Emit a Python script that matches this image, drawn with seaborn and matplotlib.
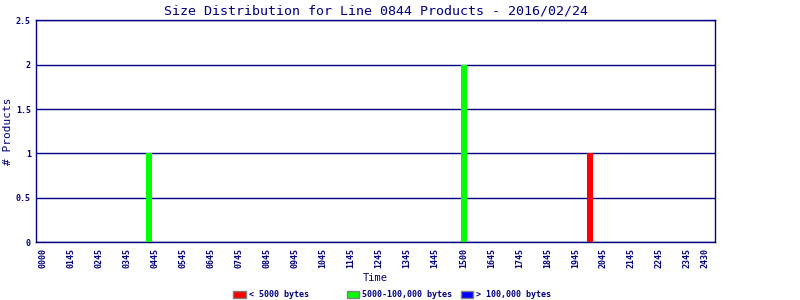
import matplotlib
matplotlib.use("Agg")
import matplotlib.pyplot as plt
from matplotlib.patches import Patch
import numpy as np
import pandas as pd
import seaborn as sns

# ---- data ----
bar_hours = [3.77, 15.02, 19.53]
bar_counts = [1, 2, 1]
bar_sizes = ["5000-100,000 bytes", "5000-100,000 bytes", "< 5000 bytes"]

size_categories = ["< 5000 bytes", "5000-100,000 bytes", "> 100,000 bytes"]
size_colors = ["#ff0000", "#00ff00", "#0000ff"]

tick_hours = list(range(24)) + [23.64]
tick_labels = ["0000", "0145", "0245", "0345", "0445", "0545", "0645", "0745",
               "0845", "0945", "1045", "1145", "1245", "1345", "1445", "1500",
               "1645", "1745", "1845", "1945", "2045", "2145", "2245", "2345",
               "2430"]
y_ticks = [0, 0.5, 1, 1.5, 2, 2.5]
y_tick_labels = ["0", "0.5", "1", "1.5", "2", "2.5"]

title = "Size Distribution for Line 0844 Products - 2016/02/24"

# ---- style ----
sns.set_style("white")
plt.rcParams["font.family"] = ["DejaVu Sans Mono", "DejaVu Sans"]
NAVY = "#000080"

fig = plt.figure(figsize=(8, 3), dpi=100)
ax = fig.add_axes([0.0456, 0.1917, 0.8485, 0.7416])

df = pd.DataFrame({"hour": bar_hours, "count": bar_counts, "size": bar_sizes})
palette = dict(zip(size_categories, size_colors))
bar_width_hours = 0.22
uniq = np.unique(df["hour"])
rel_width = bar_width_hours / np.diff(uniq).min()

sns.barplot(data=df, x="hour", y="count", hue="size", hue_order=size_categories,
            palette=palette, native_scale=True, dodge=False, width=rel_width,
            saturation=1, errorbar=None, legend=False, ax=ax, zorder=3,
            linewidth=0, edgecolor="none")

ax.set_xlim(-0.24, 24.0)
ax.set_ylim(0, 2.5)
ax.set_yticks(y_ticks)
ax.set_yticklabels(y_tick_labels)
ax.set_xticks(tick_hours)
ax.set_xticklabels(tick_labels, rotation=90)
ax.tick_params(axis="both", length=0, colors=NAVY, labelsize=6, pad=4)
for lab in ax.get_xticklabels() + ax.get_yticklabels():
    lab.set_fontweight("bold")

ax.yaxis.grid(True, color=NAVY, linewidth=1, zorder=1)
ax.xaxis.grid(False)
ax.set_axisbelow(True)
for sp in ax.spines.values():
    sp.set_visible(True)
    sp.set_color(NAVY)
    sp.set_linewidth(1)

ax.set_xlabel("Time", color=NAVY, fontsize=7.5)
ax.xaxis.set_label_coords(0.499, -0.135)
ax.set_ylabel("# Products", color=NAVY, fontsize=8)
ax.yaxis.set_label_coords(-0.035, 0.5)
ax.set_title(title, color=NAVY, fontsize=9.6, pad=4)

# legend with equal-width columns (monospace, padded labels)
maxlen = max(len(s) for s in size_categories)
handles = [Patch(facecolor=c, edgecolor="#808080", linewidth=1) for c in size_colors]
labels = [s.ljust(maxlen) for s in size_categories]
leg = fig.legend(handles, labels, ncol=3, loc="center left", bbox_to_anchor=(0.2863, 0.017),
                 frameon=False, fontsize=6, handlelength=1.5, handleheight=1.0,
                 handletextpad=0.35, columnspacing=1.0, labelcolor=NAVY, borderpad=0)
for t in leg.get_texts():
    t.set_fontweight("bold")

fig.savefig("out.png", dpi=100)
